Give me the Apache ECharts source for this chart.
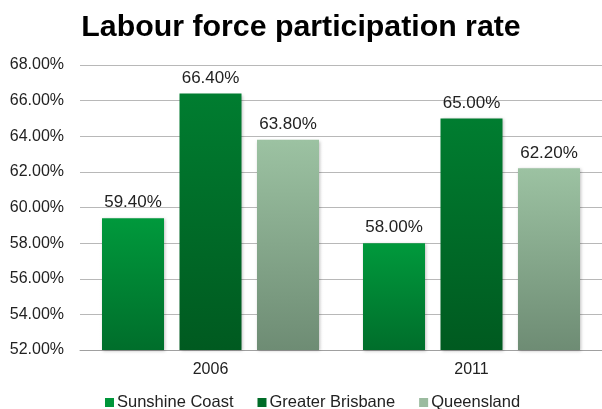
<!DOCTYPE html>
<html>
<head>
<meta charset="utf-8">
<script src="https://cdn.jsdelivr.net/npm/echarts@6/dist/echarts.min.js"></script>
<style>
  html, body { margin: 0; padding: 0; background: #fff; }
  #chart { width: 602px; height: 409px; }
</style>
</head>
<body>
<div id="chart"></div>
<script>
// Labour force participation rate by region, census years
const years = ['2006', '2011'];
const sunshineCoast = [59.4, 58.0];
const greaterBrisbane = [66.4, 65.0];
const queensland = [63.8, 62.2];
const seriesNames = ['Sunshine Coast', 'Greater Brisbane', 'Queensland'];

const FONT = 'Liberation Sans, Arial, sans-serif';

function grad(top, bottom) {
  return new echarts.graphic.LinearGradient(0, 0, 0, 1, [
    { offset: 0, color: top },
    { offset: 1, color: bottom }
  ]);
}

const styles = [
  { fill: grad('#00993c', '#006e2b'), legend: '#00963a' },
  { fill: grad('#007d30', '#005a20'), legend: '#006c28' },
  { fill: grad('#9cc2a2', '#6e8c74'), legend: '#9bbb9f' }
];

const values = [sunshineCoast, greaterBrisbane, queensland];

const chart = echarts.init(document.getElementById('chart'), null, { renderer: 'canvas' });

chart.setOption({
  animation: false,
  backgroundColor: '#ffffff',
  title: {
    text: 'Labour force participation rate',
    left: 'center',
    top: 8,
    textStyle: { fontFamily: FONT, fontWeight: 'bold', fontSize: 30.3, color: '#000' }
  },
  legend: {
    top: 394,
    left: 105,
    padding: 0,
    itemWidth: 9,
    itemHeight: 9,
    itemGap: 24,
    icon: 'rect',
    textStyle: { fontFamily: FONT, fontSize: 16.5, color: '#222', padding: [0, 0, 0, -2] },
    data: seriesNames.map((n, i) => ({ name: n, itemStyle: { color: styles[i].legend } }))
  },
  grid: { left: 80, right: 0, top: 65, bottom: 59, containLabel: false },
  xAxis: {
    type: 'category',
    data: years,
    axisLine: { lineStyle: { color: '#a0a0a0', width: 1 } },
    axisTick: { show: false },
    axisLabel: { fontFamily: FONT, fontSize: 16, color: '#222', margin: 12 }
  },
  yAxis: {
    type: 'value',
    min: 52,
    max: 68,
    interval: 2,
    axisLine: { show: false },
    axisTick: { show: false },
    splitLine: { lineStyle: { color: '#b8b8b8', width: 1 } },
    axisLabel: {
      fontFamily: FONT, fontSize: 16, color: '#222', margin: 16,
      formatter: v => v.toFixed(2) + '%'
    }
  },
  series: seriesNames.map((name, i) => ({
    name: name,
    type: 'bar',
    data: values[i],
    barWidth: 62,
    barGap: '25%',
    itemStyle: {
      color: styles[i].fill,
      shadowColor: 'rgba(0,0,0,0.25)',
      shadowBlur: 3,
      shadowOffsetX: 1,
      shadowOffsetY: 1
    },
    label: {
      show: true,
      position: 'top',
      distance: 7,
      fontFamily: FONT,
      fontSize: 17,
      color: '#222',
      formatter: p => p.value.toFixed(2) + '%'
    }
  }))
});
</script>
</body>
</html>
